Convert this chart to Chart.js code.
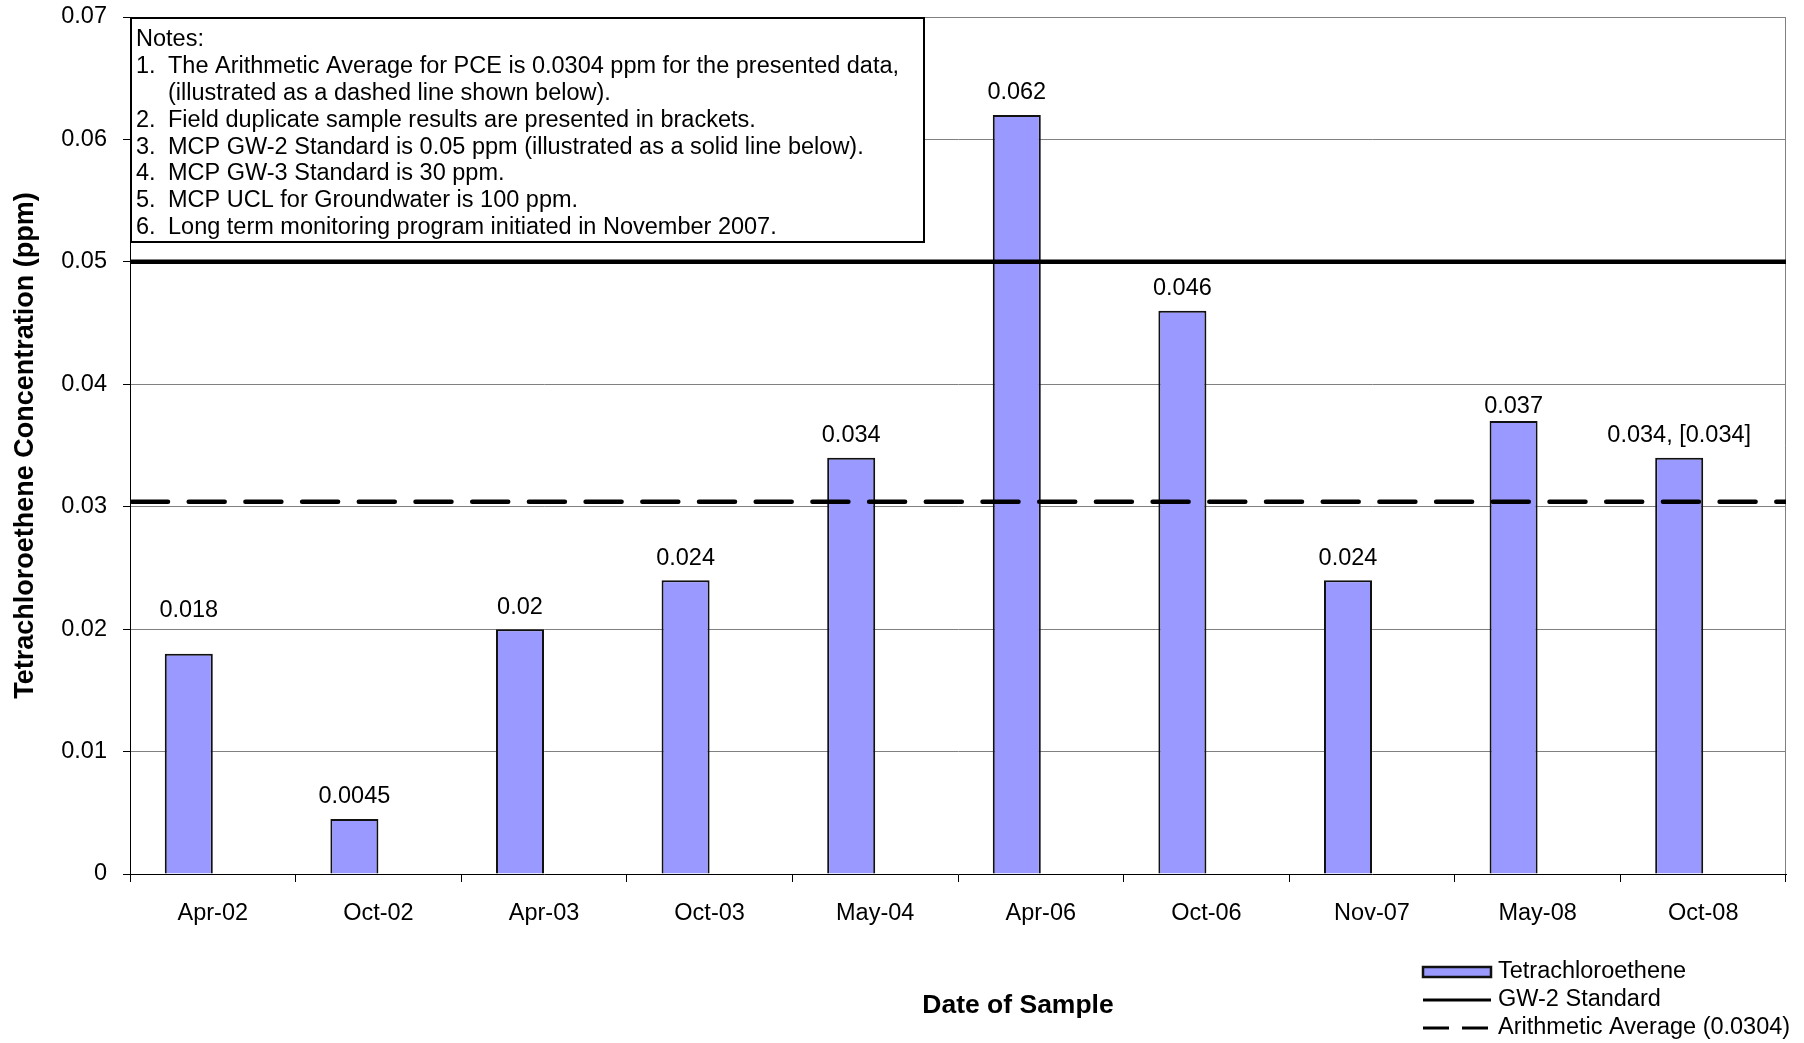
<!DOCTYPE html>
<html>
<head>
<meta charset="utf-8">
<title>Tetrachloroethene Concentration</title>
<script src="https://cdn.jsdelivr.net/npm/chart.js@4.4.1/dist/chart.umd.min.js"></script>
<style>
  html, body { margin: 0; padding: 0; background: #fff; }
  canvas { display: block; }
</style>
</head>
<body>
<canvas id="chart" width="1804" height="1043"></canvas>
<script>
// Sampling events and PCE results (ppm)
const sampleDates = ['Apr-02', 'Oct-02', 'Apr-03', 'Oct-03', 'May-04', 'Apr-06', 'Oct-06', 'Nov-07', 'May-08', 'Oct-08'];
const pceValues = [0.018, 0.0045, 0.02, 0.024, 0.034, 0.062, 0.046, 0.024, 0.037, 0.034];
// Field duplicate results, shown in brackets after the primary result
const duplicateValues = [null, null, null, null, null, null, null, null, null, 0.034];
const gw2Standard = 0.05;
const arithmeticAverage = 0.0304;
const yTickLabels = ['0', '0.01', '0.02', '0.03', '0.04', '0.05', '0.06', '0.07'];
const notesLines = [
  ['', 'Notes:'],
  ['1.', 'The Arithmetic Average for PCE is 0.0304 ppm for the presented data,'],
  ['', '(illustrated as a dashed line shown below).'],
  ['2.', 'Field duplicate sample results are presented in brackets.'],
  ['3.', 'MCP GW-2 Standard is 0.05 ppm (illustrated as a solid line below).'],
  ['4.', 'MCP GW-3 Standard is 30 ppm.'],
  ['5.', 'MCP UCL for Groundwater is 100 ppm.'],
  ['6.', 'Long term monitoring program initiated in November 2007.']
];

const FONT = '"Liberation Sans", Arial, Helvetica, sans-serif';
const TEXT_SIZE = 23.5;
Chart.defaults.font.family = FONT;
Chart.defaults.font.size = TEXT_SIZE;
Chart.defaults.color = '#000';

// Horizontal reference lines spanning the full plot width
const referenceLines = [
  { label: 'GW-2 Standard', value: gw2Standard, width: 4.5, dash: [], legendDash: [] },
  { label: 'Arithmetic Average (0.0304)', value: arithmeticAverage, width: 4.5, dash: [36, 20.7], legendDash: [26, 13] }
];

const valueText = pceValues.map((v, i) =>
  duplicateValues[i] == null ? String(v) : String(v) + ', [' + String(duplicateValues[i]) + ']');

// Gray frame on the top and right of the plot area
const plotFrame = {
  id: 'plotFrame',
  beforeDatasetsDraw(chart) {
    const { ctx, chartArea: a } = chart;
    ctx.save();
    ctx.strokeStyle = '#808080';
    ctx.lineWidth = 1;
    ctx.beginPath();
    ctx.moveTo(a.left, a.top + 0.5);
    ctx.lineTo(a.right - 0.5, a.top + 0.5);
    ctx.lineTo(a.right - 0.5, a.bottom);
    ctx.stroke();
    ctx.restore();
  }
};

// Boxed notes in the upper-left corner of the plot
const notesBox = {
  id: 'notesBox',
  beforeDatasetsDraw(chart, args, opts) {
    const { ctx, chartArea: a } = chart;
    ctx.save();
    const x = a.left, y = a.top;
    ctx.fillStyle = '#fff';
    ctx.fillRect(x, y, opts.width, opts.height);
    ctx.strokeStyle = '#000';
    ctx.lineWidth = 2;
    ctx.strokeRect(x + 1, y + 1, opts.width - 2, opts.height - 2);
    ctx.fillStyle = '#000';
    ctx.font = TEXT_SIZE + 'px ' + FONT;
    ctx.textBaseline = 'middle';
    ctx.textAlign = 'left';
    notesLines.forEach((ln, i) => {
      const ty = y + opts.firstLine + i * opts.lineGap;
      if (ln[0]) ctx.fillText(ln[0], x + opts.numberX, ty);
      ctx.fillText(ln[1], x + (i === 0 ? opts.numberX : opts.textX), ty);
    });
    ctx.restore();
  }
};

// GW-2 standard and average lines, placed with the value scale, drawn over the bars
const refLines = {
  id: 'refLines',
  afterDatasetsDraw(chart) {
    const { ctx, chartArea: a, scales } = chart;
    ctx.save();
    ctx.beginPath();
    ctx.rect(a.left, a.top, a.right - a.left, a.bottom - a.top);
    ctx.clip();
    ctx.strokeStyle = '#000';
    referenceLines.forEach(r => {
      const y = scales.y.getPixelForValue(r.value);
      ctx.lineWidth = r.width;
      ctx.lineCap = r.dash.length ? 'round' : 'butt';
      ctx.setLineDash(r.dash);
      ctx.beginPath();
      ctx.moveTo(a.left + (r.dash.length ? 2 : 0), y);
      ctx.lineTo(a.right, y);
      ctx.stroke();
    });
    ctx.restore();
  }
};

// Value labels above each bar
const barValues = {
  id: 'barValues',
  afterDatasetsDraw(chart, args, opts) {
    const { ctx } = chart;
    const meta = chart.getDatasetMeta(0);
    ctx.save();
    ctx.fillStyle = '#000';
    ctx.font = TEXT_SIZE + 'px ' + FONT;
    ctx.textAlign = 'center';
    ctx.textBaseline = 'middle';
    meta.data.forEach((bar, i) => {
      const lift = opts.lift[i] != null ? opts.lift[i] : opts.defaultLift;
      ctx.fillText(valueText[i], bar.x, bar.y - lift);
    });
    ctx.restore();
  }
};

// Horizontal axis caption and stacked legend at the bottom
const bottomCaptions = {
  id: 'bottomCaptions',
  afterDraw(chart, args, opts) {
    const { ctx, chartArea: a } = chart;
    ctx.save();
    ctx.fillStyle = '#000';
    ctx.font = 'bold 26.5px ' + FONT;
    ctx.textAlign = 'center';
    ctx.textBaseline = 'middle';
    ctx.fillText(opts.xTitle, (a.left + a.right) / 2 + opts.xTitleShift, opts.xTitleY);

    ctx.font = TEXT_SIZE + 'px ' + FONT;
    ctx.textAlign = 'left';
    const sx = opts.symbolX, sw = opts.symbolW;
    const bars = chart.data.datasets[0];
    const entries = [{ label: bars.label, bar: bars }].concat(referenceLines.map(r => ({ label: r.label, line: r })));
    entries.forEach((e, i) => {
      const cy = opts.legendTop + i * opts.legendGap;
      if (e.line) {
        ctx.strokeStyle = '#000';
        ctx.lineWidth = 3;
        ctx.lineCap = 'butt';
        ctx.setLineDash(e.line.legendDash);
        ctx.beginPath();
        ctx.moveTo(sx, cy);
        ctx.lineTo(sx + sw, cy);
        ctx.stroke();
        ctx.setLineDash([]);
      } else {
        ctx.fillStyle = e.bar.backgroundColor;
        ctx.fillRect(sx, cy - 5, sw, 10);
        ctx.strokeStyle = e.bar.borderColor;
        ctx.lineWidth = 2.5;
        ctx.strokeRect(sx, cy - 5, sw, 10);
      }
      ctx.fillStyle = '#000';
      ctx.fillText(e.label, opts.textX, cy);
    });
    ctx.restore();
  }
};

new Chart(document.getElementById('chart'), {
  data: {
    labels: sampleDates,
    datasets: [
      {
        type: 'bar',
        label: 'Tetrachloroethene',
        data: pceValues,
        backgroundColor: '#9999FF',
        borderColor: '#111',
        borderWidth: 2,
        categoryPercentage: 0.58,
        barPercentage: 1.0
      },
      {
        // empty companion series: keeps each bar in the left half of its category
        type: 'bar',
        label: '',
        data: sampleDates.map(() => null),
        backgroundColor: '#9999FF',
        categoryPercentage: 0.58,
        barPercentage: 1.0
      }
    ]
  },
  options: {
    responsive: false,
    animation: false,
    devicePixelRatio: 1,
    layout: { padding: { top: 17, right: 18, bottom: 0, left: 0 } },
    scales: {
      x: {
        type: 'category',
        offset: true,
        grid: { offset: true, drawOnChartArea: false, color: '#000', tickLength: 8 },
        border: { color: '#000', width: 1 },
        ticks: { padding: 17, maxRotation: 0, autoSkip: false },
        afterFit: s => { s.height = 169; s.paddingLeft = 0; s.paddingRight = 0; }
      },
      y: {
        min: 0,
        max: 0.07,
        ticks: { stepSize: 0.01, padding: 16, callback: (v, i) => yTickLabels[i] },
        grid: {
          color: c => (c.tick && c.tick.value === 0) ? 'rgba(0,0,0,0)' : '#808080',
          tickColor: '#000',
          tickLength: 7,
          lineWidth: 1
        },
        border: { color: '#000', width: 1 },
        title: {
          display: true,
          text: 'Tetrachloroethene Concentration (ppm)',
          font: { size: 27, weight: 'bold' },
          padding: { top: 9, bottom: 0 }
        },
        afterFit: s => { s.width = 130; s.paddingTop = 0; s.paddingBottom = 0; }
      }
    },
    plugins: {
      legend: { display: false },
      tooltip: { enabled: false },
      notesBox: { width: 795, height: 226, firstLine: 23, lineGap: 26.8, numberX: 6, textX: 38 },
      barValues: { defaultLift: 22, lift: [43, null, null, null, null, null, null, null, 14, null] },
      bottomCaptions: {
        xTitle: 'Date of Sample', xTitleShift: 60, xTitleY: 1006,
        legendTop: 972, legendGap: 28, symbolX: 1423, symbolW: 68, textX: 1498
      }
    }
  },
  plugins: [plotFrame, notesBox, refLines, barValues, bottomCaptions]
});
</script>
</body>
</html>
